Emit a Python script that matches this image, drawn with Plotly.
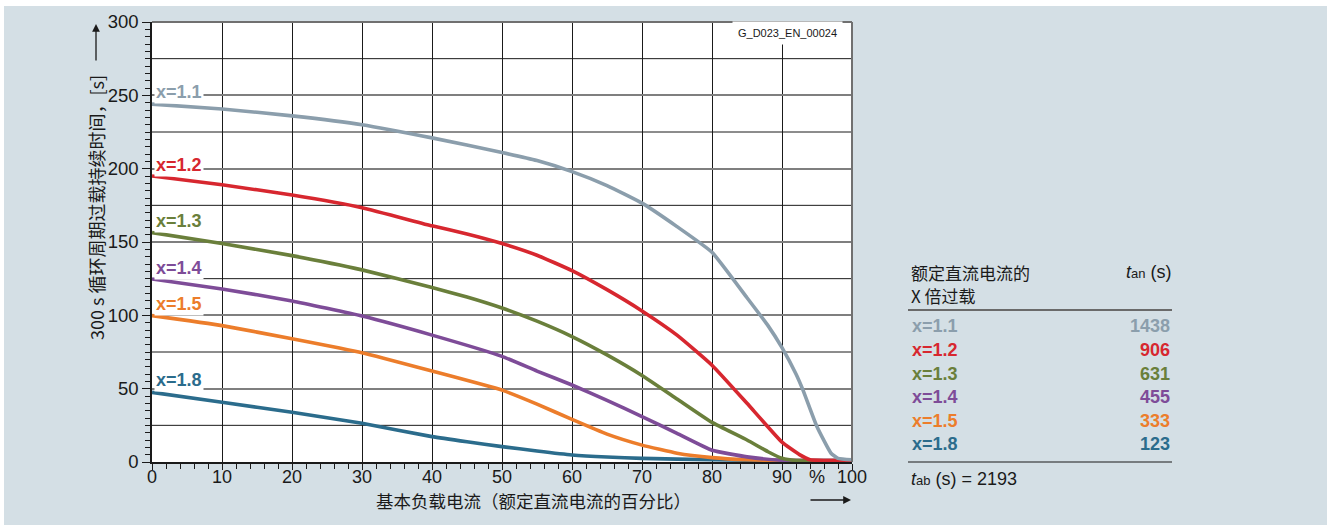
import plotly.graph_objects as go

# ---------------- data ----------------
series_names = ["x=1.8", "x=1.5", "x=1.4", "x=1.3", "x=1.2", "x=1.1"]
series_colors = ["#2b6c8c", "#ec7d2b", "#7e4c98", "#6a7f3b", "#d7272f", "#8b9eac"]
label_y = [56, 108, 132, 164, 202.5, 252]

x18 = [0, 10, 20, 30, 40, 45, 50, 55, 60, 65, 70, 80, 90, 100]
y18 = [47.5, 40.7, 33.9, 26.4, 17.3, 13.8, 10.5, 7.5, 4.8, 3.4, 2.5, 1.5, 1, 1]

x15 = [0, 10, 20, 30, 40, 50, 55, 60, 65, 70, 75, 80, 85, 90, 100]
y15 = [99.8, 93, 84, 74.5, 62, 49, 39.5, 29, 19, 11.5, 6, 3, 1.5, 1, 1]

x14 = [0, 10, 20, 30, 40, 50, 55, 60, 65, 70, 75, 80, 85, 90, 100]
y14 = [124.8, 118, 109.8, 99.5, 86.5, 72, 62, 52.5, 42, 31, 19.5, 8, 3.5, 1.2, 1]

x13 = [0, 10, 20, 30, 40, 45, 50, 55, 60, 65, 70, 75, 80, 85, 88, 90, 92, 100]
y13 = [156.4, 149, 140.7, 131, 119, 112.5, 105, 96, 85.5, 73, 59, 43, 27, 15, 7, 2.5, 1, 1]

x12 = [0, 10, 20, 30, 40, 45, 50, 55, 60, 65, 70, 75, 80, 85, 90, 92.5, 94, 96, 100]
y12 = [195, 189, 182, 173.4, 161, 155.5, 149, 141, 130.5, 117.5, 103, 86.5, 66, 40, 13.5, 5, 1.5, 1, 1]

x11 = [0, 10, 20, 30, 40, 50, 55, 60, 65, 70, 75, 80, 85, 88, 90, 92, 93, 95, 97, 98, 100]
y11 = [244, 240.7, 236, 230, 221, 211, 205.5, 198, 188.5, 176.5, 160.5, 143, 112, 93, 78, 60, 49, 24, 6, 2.5, 1.5]

series_x = [x18, x15, x14, x13, x12, x11]
series_y = [y18, y15, y14, y13, y12, y11]

table_names = ["x=1.1", "x=1.2", "x=1.3", "x=1.4", "x=1.5", "x=1.8"]
table_values = ["1438", "906", "631", "455", "333", "123"]
table_colors = ["#8b9eac", "#d7272f", "#6a7f3b", "#7e4c98", "#ec7d2b", "#2b6c8c"]
t_ab = "2193"

x_ticks = [0, 10, 20, 30, 40, 50, 60, 70, 80, 90, 100]
x_tick_labels = ["0", "10", "20", "30", "40", "50", "60", "70", "80", "90", "100"]
y_ticks = [0, 50, 100, 150, 200, 250, 300]
y_minor_grid = [25, 75, 125, 175, 225, 275]

# ---------------- layout geometry (pixels) ----------------
W, H = 1329, 527
L, R, T, B = 152, 852, 22, 462
PW, PH = R - L, B - T


def px(xp):
    return (xp - L) / PW


def py(yp):
    return (B - yp) / PH


FONT = "Liberation Sans, Arial, sans-serif"
CJK = "Noto Sans CJK SC, sans-serif"
BG = "#d4dfe5"
INK = "#1a1a1a"

fig = go.Figure()

for name, col, xs, ys in zip(series_names, series_colors, series_x, series_y):
    fig.add_trace(go.Scatter(x=xs, y=ys, mode="lines", name=name,
                             line=dict(color=col, width=3.6, shape="spline", smoothing=0.4),
                             hoverinfo="skip", showlegend=False))

shapes = []
# background panel
shapes.append(dict(type="rect", xref="paper", yref="paper", x0=px(4), x1=px(1327), y0=py(6), y1=py(525),
                   fillcolor=BG, line=dict(width=0), layer="below"))
# plot area white
shapes.append(dict(type="rect", xref="paper", yref="paper", x0=0, x1=1, y0=0, y1=1,
                   fillcolor="white", line=dict(width=0), layer="below"))
# minor horizontal grid lines (black, thin)
for v in y_minor_grid:
    shapes.append(dict(type="line", xref="paper", yref="y", x0=0, x1=1, y0=v, y1=v,
                       line=dict(color=INK, width=1), layer="below"))
# top / right frame (gray)
shapes.append(dict(type="line", xref="paper", yref="paper", x0=0, x1=1, y0=1, y1=1,
                   line=dict(color="#707070", width=2)))
shapes.append(dict(type="line", xref="paper", yref="paper", x0=1, x1=1, y0=0, y1=1,
                   line=dict(color="#707070", width=2)))
# table lines
shapes.append(dict(type="line", xref="paper", yref="paper", x0=px(908), x1=px(1172), y0=py(310), y1=py(310),
                   line=dict(color="#6a6a6a", width=2)))
shapes.append(dict(type="line", xref="paper", yref="paper", x0=px(908), x1=px(1172), y0=py(462), y1=py(462),
                   line=dict(color=INK, width=1.2)))

ann = []
# curve labels
for name, col, ly in zip(series_names, series_colors, label_y):
    ann.append(dict(x=0.3, y=ly, xref="x", yref="y", text="<b>%s</b>" % name, showarrow=False,
                    xanchor="left", yanchor="middle", bgcolor="white", borderpad=1,
                    font=dict(family=FONT, size=18, color=col)))
# figure id
ann.append(dict(x=px(843), y=py(33), xref="paper", yref="paper", text="G_D023_EN_00024", showarrow=False,
                xanchor="right", yanchor="middle", bgcolor="white", borderpad=5,
                font=dict(family=FONT, size=11, color=INK)))
# x tick labels (placed close to the axis as in the reference)
for v, t in zip(x_ticks, x_tick_labels):
    ann.append(dict(x=v, y=py(477), xref="x", yref="paper", text=t, showarrow=False,
                    xanchor="center", yanchor="middle", font=dict(family=FONT, size=18, color=INK)))
# percent label
ann.append(dict(x=95, y=py(477), xref="x", yref="paper", text="%", showarrow=False,
                xanchor="center", yanchor="middle", font=dict(family=FONT, size=18, color=INK)))
# y-axis title
ann.append(dict(x=px(96), y=py(208), xref="paper", yref="paper", text="300 s 循环周期过载持续时间，[s]",
                showarrow=False, textangle=-90, xanchor="center", yanchor="middle",
                font=dict(family=CJK, size=18, color=INK)))
ann.append(dict(x=px(96), y=py(24), xref="paper", yref="paper", text="", showarrow=True,
                ax=0, ay=38, arrowhead=2, arrowsize=1.2, arrowwidth=1.3, arrowcolor=INK))
# x-axis title
ann.append(dict(x=px(533), y=py(500), xref="paper", yref="paper", text="基本负载电流（额定直流电流的百分比）",
                showarrow=False, xanchor="center", yanchor="middle",
                font=dict(family=CJK, size=17.5, color=INK)))
ann.append(dict(x=px(851), y=py(500), xref="paper", yref="paper", text="", showarrow=True,
                ax=-42, ay=0, arrowhead=2, arrowsize=1.2, arrowwidth=1.3, arrowcolor=INK))
# table header
ann.append(dict(x=px(909), y=py(272), xref="paper", yref="paper", text="额定直流电流的",
                showarrow=False, xanchor="left", yanchor="middle",
                font=dict(family=CJK, size=17, color=INK)))
ann.append(dict(x=px(909), y=py(295), xref="paper", yref="paper", text="X 倍过载",
                showarrow=False, xanchor="left", yanchor="middle",
                font=dict(family=CJK, size=17, color=INK)))
ann.append(dict(x=px(1173), y=py(272), xref="paper", yref="paper",
                text="<i>t</i><span style='font-size:13px'>an</span> (s)",
                showarrow=False, xanchor="right", yanchor="middle",
                font=dict(family=FONT, size=18, color=INK)))
row_y = [326, 350, 373.5, 397, 420.5, 444]
for name, val, col, ry in zip(table_names, table_values, table_colors, row_y):
    ann.append(dict(x=px(910), y=py(ry), xref="paper", yref="paper", text="<b>%s</b>" % name,
                    showarrow=False, xanchor="left", yanchor="middle",
                    font=dict(family=FONT, size=18, color=col)))
    ann.append(dict(x=px(1172), y=py(ry), xref="paper", yref="paper", text="<b>%s</b>" % val,
                    showarrow=False, xanchor="right", yanchor="middle",
                    font=dict(family=FONT, size=18, color=col)))
ann.append(dict(x=px(909), y=py(479), xref="paper", yref="paper",
                text="<i>t</i><span style='font-size:13px'>ab</span> (s) = " + t_ab,
                showarrow=False, xanchor="left", yanchor="middle",
                font=dict(family=FONT, size=18, color=INK)))

fig.update_layout(
    width=W, height=H,
    margin=dict(l=L, r=W - R, t=T, b=H - B, pad=0),
    paper_bgcolor="white", plot_bgcolor="rgba(0,0,0,0)",
    shapes=shapes, annotations=ann,
    xaxis=dict(range=[0, 100], tickvals=x_ticks, showticklabels=False,
               showgrid=True, gridcolor=INK, gridwidth=1, zeroline=False,
               showline=True, linecolor=INK, linewidth=1.5,
               ticks="outside", ticklen=6, tickwidth=1, tickcolor=INK,
               minor=dict(dtick=2, ticks="outside", ticklen=5, tickcolor=INK, showgrid=False),
               fixedrange=True),
    yaxis=dict(range=[0, 300], tickvals=y_ticks, showgrid=True, gridcolor="#7f7f7f", gridwidth=2,
               zeroline=False, showline=True, linecolor=INK, linewidth=1.5,
               ticks="outside", ticklen=8, tickwidth=1, tickcolor=INK,
               minor=dict(dtick=5, ticks="outside", ticklen=5, tickcolor=INK, showgrid=False),
               tickfont=dict(family=FONT, size=18.5, color=INK), fixedrange=True),
)

fig.write_html("out.html", config={"displayModeBar": False},
               post_script="document.body.style.margin='0';document.body.style.overflow='hidden';")
